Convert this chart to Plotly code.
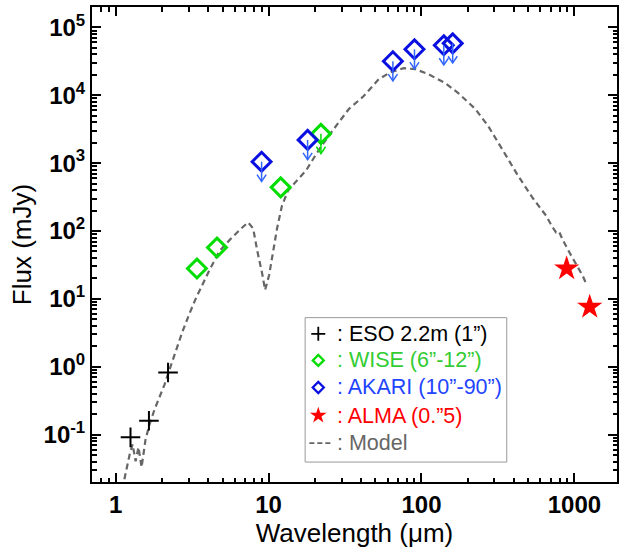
import numpy as np
import plotly.graph_objects as go

# ---------------- data ----------------
eso_wl = [1.25, 1.65, 2.2]
eso_flux = [0.091, 0.16, 0.82]

wise_wl = [3.4, 4.6, 12.0, 22.0]
wise_flux = [28.0, 57.0, 440.0, 2700.0]
wise_limit = [False, False, False, True]

akari_wl = [9.0, 18.0, 65.0, 90.0, 140.0, 160.0]
akari_flux = [1050.0, 2200.0, 31800.0, 47600.0, 54500.0, 58300.0]

alma_wl = [890.0, 1260.0]
alma_flux = [28.0, 7.6]

model_wl = [1.14, 1.234, 1.29, 1.35, 1.41, 1.477, 1.568, 1.665, 1.795, 1.935,
            2.086, 2.248, 2.46, 2.73, 3.03, 3.37, 3.74, 4.10, 4.76, 5.53,
            6.62, 7.35, 7.93, 8.42, 9.07, 9.49, 10.08, 10.7, 11.36, 12.24,
            13.4, 14.88, 17.55, 19.8, 21.98, 26.7, 33.5, 41.9, 52.5, 62.8,
            76.3, 91.4, 111, 143, 174, 225, 273, 342, 428, 537,
            652, 714, 758, 793, 842, 935, 1054, 1136, 1206]
model_flux = [0.022, 0.051, 0.0718, 0.0405, 0.065, 0.033, 0.085, 0.141, 0.234, 0.351,
              0.545, 0.904, 1.66, 3.26, 5.99, 10.6, 17.1, 26.4, 50.2, 72.8,
              109, 134, 109, 51.9, 23.9, 13.5, 22.3, 51.9, 109, 237,
              394, 516, 774, 1200, 1740, 3190, 6280, 9730, 17270, 21880,
              25060, 24230, 20460, 15100, 10770, 6280, 3530, 1520, 653, 301,
              169, 117, 95.3, 98.7, 72.8, 46.9, 29.2, 21.6, 15.9]

x_tickvals = [1, 10, 100, 1000]
x_ticktext = ["1", "10", "100", "1000"]
y_exponents = [-1, 0, 1, 2, 3, 4, 5]

legend_labels = [": ESO 2.2m (1\u201d)", ": WISE (6\u201d-12\u201d)",
                 ": AKARI (10\u201d-90\u201d)", ": ALMA (0.\u201d5)", ": Model"]

# ---------------- styles ----------------
C_ESO = "black"
C_WISE = "#00dd00"
C_WISE_TXT = "#33cc33"
C_AKARI = "#0a10e0"
C_AKARI_ARROW = "#3366ff"
C_AKARI_TXT = "#2244ff"
C_ALMA = "#ff0000"
C_MODEL = "#666666"
FONT = "Liberation Sans, Arial, sans-serif"

ARROW_DEX = 0.29      # arrow shaft length (in decades)
HEAD_DX = 0.03        # half width of arrow head (decades in x)
HEAD_DY = 0.10        # height of arrow head (decades in y)

fig = go.Figure()

# model
fig.add_trace(go.Scatter(
    x=model_wl, y=model_flux, mode="lines",
    line=dict(color=C_MODEL, width=2.2, dash="6px,4px"),
    showlegend=False, hoverinfo="skip"))

fig.add_trace(go.Scatter(
    x=eso_wl, y=eso_flux, mode="markers", showlegend=False,
    marker=dict(symbol="cross-thin", size=14, color=C_ESO,
                line=dict(color=C_ESO, width=2))))

fig.add_trace(go.Scatter(
    x=wise_wl, y=wise_flux, mode="markers", showlegend=False,
    marker=dict(symbol="diamond-open", size=14.5, color=C_WISE,
                line=dict(color=C_WISE, width=3))))

fig.add_trace(go.Scatter(
    x=akari_wl, y=akari_flux, mode="markers", showlegend=False,
    marker=dict(symbol="diamond-open", size=14.5, color=C_AKARI,
                line=dict(color=C_AKARI, width=3))))

fig.add_trace(go.Scatter(
    x=alma_wl, y=alma_flux, mode="markers", showlegend=False,
    marker=dict(symbol="star", size=19, color=C_ALMA,
                line=dict(color=C_ALMA, width=0))))


def arrow_paths(xs, ys):
    ax, ay = [], []
    for x, y in zip(xs, ys):
        tip = y * 10 ** (-ARROW_DEX)
        ax += [x, x, None,
               x * 10 ** (-HEAD_DX), x, x * 10 ** HEAD_DX, None]
        ay += [y, tip, None,
               tip * 10 ** HEAD_DY, tip, tip * 10 ** HEAD_DY, None]
    return ax, ay


ax_a, ay_a = arrow_paths(akari_wl, akari_flux)
fig.add_trace(go.Scatter(x=ax_a, y=ay_a, mode="lines", showlegend=False,
                         line=dict(color=C_AKARI_ARROW, width=1.5),
                         hoverinfo="skip"))
ax_w, ay_w = arrow_paths([w for w, l in zip(wise_wl, wise_limit) if l],
                         [f for f, l in zip(wise_flux, wise_limit) if l])
fig.add_trace(go.Scatter(x=ax_w, y=ay_w, mode="lines", showlegend=False,
                         line=dict(color=C_WISE, width=1.5),
                         hoverinfo="skip"))

# ---------------- legend (drawn in an overlay 0..1 frame) ----------------
LEG_X0, LEG_X1, LEG_Y0, LEG_Y1 = 0.406, 0.79, 0.042, 0.346
LEG_SYM_X = 0.431
LEG_TXT_X = 0.463
LEG_ROWS = [0.312, 0.256, 0.199, 0.140, 0.082]

fig.add_trace(go.Scatter(x=[LEG_SYM_X], y=[LEG_ROWS[0]], xaxis="x2", yaxis="y2",
                         mode="markers", showlegend=False, hoverinfo="skip",
                         marker=dict(symbol="cross-thin", size=10,
                                     line=dict(color=C_ESO, width=1.8))))
fig.add_trace(go.Scatter(x=[LEG_SYM_X], y=[LEG_ROWS[1]], xaxis="x2", yaxis="y2",
                         mode="markers", showlegend=False, hoverinfo="skip",
                         marker=dict(symbol="diamond-open", size=8.5, color=C_WISE,
                                     line=dict(color=C_WISE, width=2.3))))
fig.add_trace(go.Scatter(x=[LEG_SYM_X], y=[LEG_ROWS[2]], xaxis="x2", yaxis="y2",
                         mode="markers", showlegend=False, hoverinfo="skip",
                         marker=dict(symbol="diamond-open", size=8.5, color=C_AKARI,
                                     line=dict(color=C_AKARI, width=2.3))))
fig.add_trace(go.Scatter(x=[LEG_SYM_X], y=[LEG_ROWS[3]], xaxis="x2", yaxis="y2",
                         mode="markers", showlegend=False, hoverinfo="skip",
                         marker=dict(symbol="star", size=12.5, color=C_ALMA,
                                     line=dict(width=0))))
fig.add_trace(go.Scatter(x=[0.414, 0.457], y=[LEG_ROWS[4], LEG_ROWS[4]],
                         xaxis="x2", yaxis="y2", mode="lines", showlegend=False,
                         hoverinfo="skip",
                         line=dict(color=C_MODEL, width=1.8, dash="5px,3px")))

legend_colors = [C_ESO, C_WISE_TXT, C_AKARI_TXT, C_ALMA, C_MODEL]
annotations = []
for txt, col, yr in zip(legend_labels, legend_colors, LEG_ROWS):
    annotations.append(dict(x=LEG_TXT_X, y=yr, xref="paper", yref="paper",
                            xanchor="left", yanchor="middle", showarrow=False,
                            text=txt, font=dict(family=FONT, size=21.5, color=col)))

shapes = [dict(type="rect", xref="paper", yref="paper",
               x0=LEG_X0, x1=LEG_X1, y0=LEG_Y0, y1=LEG_Y1,
               line=dict(color="#999999", width=1), fillcolor="white",
               layer="below")]

axis_common = dict(
    type="log", showline=True, linewidth=2, linecolor="black",
    mirror="allticks", ticks="inside", ticklen=9, tickwidth=2,
    tickcolor="black", showgrid=False, zeroline=False,
    tickfont=dict(family=FONT, size=24, color="black", weight="bold"),
    minor=dict(ticks="inside", ticklen=4.5, tickwidth=1.5,
               tickcolor="black", dtick="D1", showgrid=False),
)

xaxis = dict(
    axis_common,
    range=[np.log10(0.7), np.log10(1900)],
    tickmode="array", tickvals=x_tickvals, ticktext=x_ticktext,
    title=dict(text="Wavelength (\u03bcm)", font=dict(family=FONT, size=26, color="black"),
               standoff=6),
)
yaxis = dict(
    axis_common,
    range=[np.log10(0.02), np.log10(2e5)],
    tickmode="array", tickvals=[10.0 ** e for e in y_exponents],
    ticktext=["10<sup>%d</sup>" % e for e in y_exponents],
    title=dict(text="Flux (mJy)", font=dict(family=FONT, size=26, color="black"),
               standoff=4),
)

fig.update_layout(
    width=624, height=551,
    margin=dict(l=92, r=5, t=5, b=69),
    paper_bgcolor="white", plot_bgcolor="white",
    xaxis=xaxis, yaxis=yaxis,
    xaxis2=dict(overlaying="x", range=[0, 1], visible=False, fixedrange=True),
    yaxis2=dict(overlaying="y", range=[0, 1], visible=False, fixedrange=True),
    annotations=annotations,
    shapes=shapes,
    showlegend=False,
)

fig.write_html("out.html")
